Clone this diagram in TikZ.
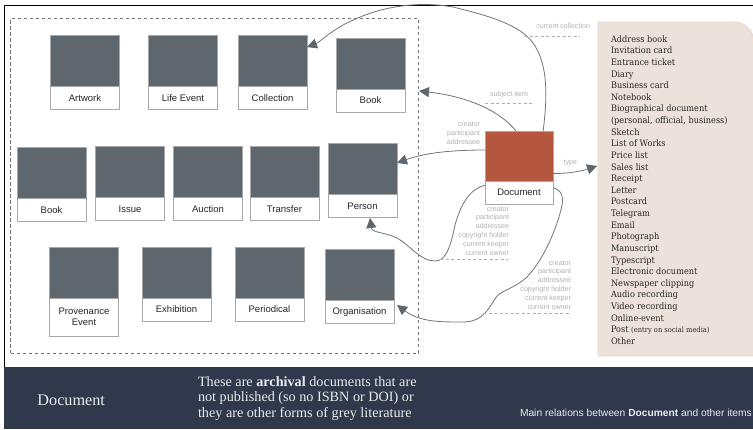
\documentclass[tikz,border=0pt]{standalone}
\usepackage{fontspec}
\setmainfont{Liberation Sans}
\newfontfamily\serifface[FakeStretch=0.92]{DejaVu Serif}
\newfontfamily\barface{Liberation Serif}
\usetikzlibrary{arrows.meta}
\definecolor{cardgray}{HTML}{5F676E}
\definecolor{cardline}{HTML}{A8A8A8}
\definecolor{docred}{HTML}{B5563E}
\definecolor{panelfill}{HTML}{EDE2DB}
\definecolor{panelline}{HTML}{E6D6CB}
\definecolor{barfill}{HTML}{30394B}
\definecolor{arrowgray}{HTML}{6F757A}
\definecolor{relgray}{HTML}{B0B0B0}
\tikzset{
  cardtop/.style={draw=cardline,fill=cardgray,line width=.8pt,anchor=north west,inner sep=0,outer sep=0},
  cardlabel/.style={draw=cardline,fill=white,line width=.8pt,anchor=north west,inner sep=0,outer sep=0,align=center,font=\fontsize{9.5}{11}\selectfont,text=black!85},
  rel/.style={draw=arrowgray,line width=.8pt,-{Triangle[length=10pt,width=10pt,color=cardgray]}},
  rellabel/.style={font=\fontsize{7.1}{8.9}\selectfont,text=relgray,align=right,anchor=north east,inner sep=0,outer sep=0},
  dashrule/.style={draw=relgray,line width=.6pt,dash pattern=on 3pt off 2.5pt},
  listtext/.style={font=\serifface\fontsize{8.9}{11.62}\selectfont,text=black!85,align=left,anchor=north west,inner sep=0,outer sep=0},
  bartext/.style={text=white!90!barfill,anchor=west,inner sep=0,outer sep=0,align=left}
}
\newcommand{\card}[6]{%
  \node[cardtop,minimum width=#3 pt,minimum height=#4 pt] (#1) at (#2) {};
  \node[cardlabel,minimum width=#3 pt,minimum height=#5 pt] (#1L) at (#1.south west) {#6};
}
\begin{document}
\begin{tikzpicture}[x=1pt,y=-1pt]
\useasboundingbox (0,0) rectangle (753,429);
\fill[white] (0,0) rectangle (753,429);
\draw[black,line width=1pt] (753,5.5) -- (4.5,5.5) -- (4.5,429);
\node[draw=arrowgray,line width=.7pt,dash pattern=on 3.5pt off 2.5pt,anchor=north west,minimum width=408pt,minimum height=334.5pt,inner sep=0,outer sep=0] (frame) at (10.5,18.5) {};
% panel
\draw[draw=panelline,fill=panelfill,line width=.8pt] (753.5,41) arc[start angle=0,end angle=-90,radius=19] -- (598,22) -- (598,356) -- (753.5,356) -- cycle;
% bar
\fill[barfill] (4,367) rectangle (753,429);
% cards
\card{artwork}{50.5,35.5}{69}{51}{23}{Artwork}
\card{lifeevent}{148.5,35.5}{69}{51}{23}{Life Event}
\card{collection}{238,35.5}{69}{51}{23}{Collection}
\card{bookA}{336,38}{69}{51}{23}{Book}
\card{bookB}{17,147.5}{69}{51}{22.5}{Book}
\card{issue}{95.5,146.5}{69}{51}{23}{Issue}
\card{auction}{173.5,146.5}{69}{51}{23}{Auction}
\card{transfer}{250,146.5}{69}{51}{23}{Transfer}
\card{person}{328,143.5}{69}{51}{23}{Person}
\card{provenance}{49.5,247}{69}{51}{38}{Provenance\\Event}
\card{exhibition}{142,247}{69}{51}{23}{Exhibition}
\card{periodical}{235,247}{69}{51}{23}{Periodical}
\card{organisation}{325,249.5}{69}{51}{23}{Organisation}
\node[cardtop,fill=docred,minimum width=68pt,minimum height=50pt] (document) at (485,131) {};
\node[cardlabel,minimum width=68pt,minimum height=23pt] (documentL) at (document.south west) {Document};
% free ends
\coordinate (bookTip) at (419,91);
\coordinate (personLow) at (370,218);
\coordinate (orgTip) at (397,305);
\coordinate (typeTip) at (597,166);
% relations
\draw[rel] (document.46) .. controls (547,100) and (549,65) .. (533,43) .. controls (520,25) and (490,16) .. (453,7) .. controls (425,2) and (385,3) .. (345,24) .. controls (330,32) and (318,43) .. (collection.22);
\draw[rel] (document.north) ++(-3,0) .. controls (495,105) and (455,95) .. (bookTip);
\draw[rel] (document.170) .. controls (450,150) and (425,153) .. (person.10);
\draw[rel] (documentL.168) .. controls (465,190) and (458,215) .. (455,225) .. controls (450,250) and (445,261) .. (435,261) .. controls (420,261) and (410,245) .. (397,238) .. controls (385,232) and (372,233) .. (personLow);
\draw[rel] (documentL.8) .. controls (562,190) and (564,198) .. (562,205) .. controls (558,225) and (545,258) .. (527,277) .. controls (515,288) and (503,290) .. (497,296) .. controls (490,305) and (485,322) .. (463,322) .. controls (440,322) and (420,322) .. (orgTip);
\draw[rel] (document.-27) .. controls (570,174) and (585,170) .. (typeTip);
% relation labels
\node[rellabel] (lcur) at (590,23.5) {current collection};
\coordinate (curA) at (524,36); \coordinate (curB) at (580,36);
\draw[dashrule] (curA) -- (curB);
\node[rellabel] (lsub) at (528,91.5) {subject item};
\coordinate (subA) at (485,103); \coordinate (subB) at (532,103);
\draw[dashrule] (subA) -- (subB);
\node[rellabel] (lcpa) at (480,122) {creator\\participant\\addressee};
\node[rellabel] (ltype) at (577,159.5) {type};
\node[rellabel] (lpers) at (509,206.5) {creator\\participant\\addressee\\copyright holder\\current keeper\\current owner};
\coordinate (perA) at (440,259); \coordinate (perB) at (508,259);
\draw[dashrule] (perA) -- (perB);
\node[rellabel] (lorg) at (571,260.5) {creator\\participant\\addressee\\copyright holder\\current keeper\\current owner};
\coordinate (orgA) at (483,313.5); \coordinate (orgB) at (570,313.5);
\draw[dashrule] (orgA) -- (orgB);
% list
\node[listtext] (typelist) at (611,35.5) {Address book\\Invitation card\\Entrance ticket\\Diary\\Business card\\Notebook\\Biographical document\\(personal, official, business)\\Sketch\\List of Works\\Price list\\Sales list\\Receipt\\Letter\\Postcard\\Telegram\\Email\\Photograph\\Manuscript\\Typescript\\Electronic document\\Newspaper clipping\\Audio recording\\Video recording\\Online-event\\Post {\fontsize{7.3}{11.62}\selectfont(entry on social media)}\\Other};
% bar text
\node[bartext,font=\barface\fontsize{16.2}{16}\selectfont] (bartitle) at (37.5,400) {Document};
\node[bartext,font=\barface\fontsize{14.2}{15.6}\selectfont] (bardesc) at (198,398.5) {These are \textbf{archival} documents that are\\not published (so no ISBN or DOI) or\\they are other forms of grey literature};
\node[bartext,font=\fontsize{10.25}{12}\selectfont] (barcaption) at (520,413) {Main relations between \textbf{Document} and other items};
\end{tikzpicture}
\end{document}
